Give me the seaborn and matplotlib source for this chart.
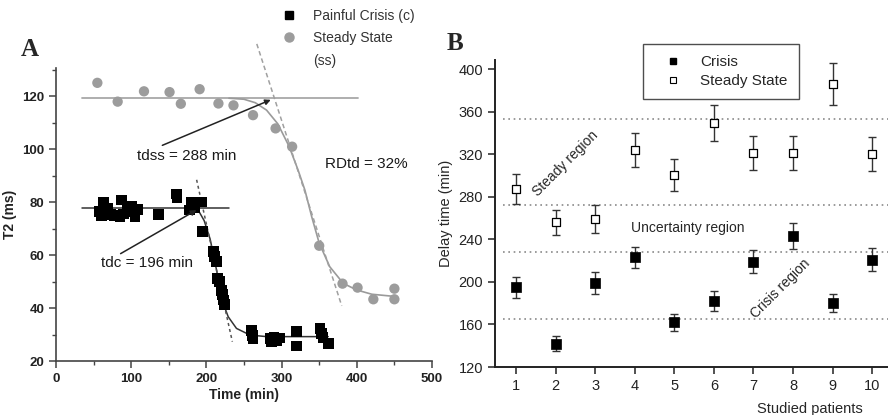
import numpy as np
import matplotlib
matplotlib.use("Agg")
import matplotlib.pyplot as plt
from matplotlib.lines import Line2D
from matplotlib.ticker import MultipleLocator
import seaborn as sns

# ---- Panel A data ----
ss_time = [55, 82, 117, 151, 166, 191, 216, 236, 262, 292, 314, 350, 381, 401, 422, 450, 450]
ss_t2 = [125.0, 117.9, 121.8, 121.5, 117.1, 122.6, 117.2, 116.5, 112.8, 107.8, 100.9,
         63.5, 49.2, 47.7, 43.3, 47.3, 43.3]

c_time = [58, 61, 63, 68, 72, 78, 85, 87, 90, 95, 100, 102, 105, 108, 136, 160, 161,
          178, 180, 185, 194, 195, 209, 211, 213, 215, 217, 220, 221, 223, 224,
          260, 261, 262, 285, 287, 290, 293, 298, 320, 320, 351, 353, 355, 362]
c_t2 = [76.5, 75.0, 79.8, 77.6, 75.2, 75.0, 74.6, 80.8, 75.5, 77.6, 78.2, 76.3, 74.5, 77.2,
        75.4, 83.0, 81.5, 77.0, 79.7, 78.0, 80.0, 68.8, 61.2, 59.5, 57.5, 51.0, 50.0,
        46.5, 45.0, 43.0, 41.2, 31.5, 29.5, 28.6, 28.5, 27.5, 28.8, 27.8, 28.7, 31.0,
        25.7, 32.3, 30.5, 29.0, 26.5]

# fitted curves
ss_fit_x = [230, 250, 265, 280, 295, 310, 322, 331, 340, 350, 364, 382, 400, 420, 453]
ss_fit_y = [119.2, 118.8, 117.5, 114.7, 109.5, 101, 92, 84.5, 74.5, 64.5, 55.6, 49.3, 46.8, 45.2, 44.3]
c_fit_x = [180, 190, 197, 205, 213, 222, 229, 240, 258, 280, 362]
c_fit_y = [77.5, 76.5, 73, 66, 55, 42, 36.7, 32.3, 29.8, 29.2, 29.2]

ss_base = 119.2
c_base = 77.6

# ---- Panel B data ----
patients = [1, 2, 3, 4, 5, 6, 7, 8, 9, 10]
crisis = [195, 142, 199, 223, 162, 182, 219, 243, 180, 221]
crisis_err = [10, 7, 10, 10, 8, 9, 11, 12, 8.5, 11]
steady = [287, 256, 259, 324, 300, 349, 321, 321, 386, 320]
steady_err = [14, 12, 13, 16, 15, 17, 16, 16, 20, 16]
region_lines = [353, 272, 228, 165]

sns.set_style("ticks")
plt.rcParams['font.family'] = ['Liberation Sans', 'DejaVu Sans']

fig = plt.figure(figsize=(8.88, 4.15), dpi=100)

# ================= Panel A =================
axA = fig.add_axes([56 / 888, 1 - 361 / 415, 376 / 888, 293 / 415])
axA.set_xlim(0, 500)
axA.set_ylim(20, 130.6)

axA.plot([34, 402], [ss_base, ss_base], color='#a8a8a8', lw=1.3, zorder=1)
axA.plot([34, 230], [c_base, c_base], color='#333333', lw=1.1, zorder=1)
sns.lineplot(x=ss_fit_x, y=ss_fit_y, ax=axA, color='#9a9a9a', lw=1.2, sort=False)
sns.lineplot(x=c_fit_x, y=c_fit_y, ax=axA, color='#333333', lw=1.1, sort=False)
axA.plot([267, 380], [139.7, 40.8], color='#a0a0a0', lw=1.1, ls=(0, (3, 2)), clip_on=False)
axA.plot([187, 234.5], [88.4, 27.3], color='#555555', lw=1.1, ls=(0, (2, 2)), clip_on=False)

sns.scatterplot(x=ss_time, y=ss_t2, ax=axA, marker='o', color='#9c9c9c', s=55,
                edgecolor='none', legend=False, zorder=3)
sns.scatterplot(x=c_time, y=c_t2, ax=axA, marker='s', color='black', s=60,
                edgecolor='none', legend=False, zorder=3)

axA.annotate('', xy=(289, 119), xytext=(138, 101),
             arrowprops=dict(arrowstyle='-|>', color='#222222', lw=1.1, mutation_scale=8))
axA.annotate('', xy=(190, 77.5), xytext=(82.7, 60),
             arrowprops=dict(arrowstyle='-|>', color='#222222', lw=1.1, mutation_scale=8))
axA.text(174, 97.4, 'tdss = 288 min', fontsize=11, ha='center', va='center', color='#1a1a1a')
axA.text(121, 57, 'tdc = 196 min', fontsize=11, ha='center', va='center', color='#1a1a1a')
axA.text(413, 94.5, 'RDtd = 32%', fontsize=11, ha='center', va='center', color='#1a1a1a')

axA.xaxis.set_major_locator(MultipleLocator(100))
axA.xaxis.set_minor_locator(MultipleLocator(50))
axA.yaxis.set_major_locator(MultipleLocator(20))
axA.yaxis.set_minor_locator(MultipleLocator(10))
axA.tick_params(which='major', direction='out', length=5, width=1.1, colors='#444444',
                labelcolor='#222222', labelsize=9.5)
axA.tick_params(which='minor', direction='out', length=3, width=1, colors='#444444')
for lab in axA.get_xticklabels() + axA.get_yticklabels():
    lab.set_fontweight('bold')
for side in ['top', 'right']:
    axA.spines[side].set_visible(False)
for side in ['left', 'bottom']:
    axA.spines[side].set_color('#444444')
    axA.spines[side].set_linewidth(1.2)
axA.set_xlabel('Time (min)', fontsize=10, fontweight='bold', color='#222222', labelpad=2)
axA.set_ylabel('T2 (ms)', fontsize=10, fontweight='bold', color='#222222', labelpad=4)

handlesA = [Line2D([], [], marker='s', color='black', ls='none', markersize=6),
            Line2D([], [], marker='o', color='#9c9c9c', ls='none', markersize=6.5),
            Line2D([], [], ls='none')]
fig.legend(handlesA, ['Painful Crisis (c)', 'Steady State', '(ss)'], loc='upper left',
           bbox_to_anchor=(274 / 888, 1 - 2 / 415), frameon=False, fontsize=10,
           labelcolor='#333333', handletextpad=1.1, labelspacing=0.6, handlelength=1.2,
           borderaxespad=0.1)

fig.text(30 / 888, 1 - 50 / 415, 'A', family='Liberation Serif', fontweight='bold',
         fontsize=18, ha='center', va='center')

# ================= Panel B =================
axB = fig.add_axes([495 / 888, 1 - 367 / 415, 393 / 888, 307 / 415])
axB.set_xlim(0.47, 10.4)
axB.set_ylim(120, 408.5)

for y in region_lines:
    axB.axhline(y, xmin=0.02, xmax=1, color='#8a8a8a', lw=1.2, ls=(0, (1, 2.2)), zorder=0)

axB.errorbar(patients, crisis, yerr=crisis_err, fmt='none', ecolor='#333333',
             elinewidth=1, capsize=2.8, capthick=1, zorder=1)
axB.errorbar(patients, steady, yerr=steady_err, fmt='none', ecolor='#333333',
             elinewidth=1, capsize=2.8, capthick=1, zorder=1)
sns.scatterplot(x=patients, y=crisis, ax=axB, marker='s', color='black', s=45,
                edgecolor='black', linewidth=0.5, legend=False, zorder=3)
sns.scatterplot(x=patients, y=steady, ax=axB, marker='s', color='white', s=40,
                edgecolor='black', linewidth=0.9, legend=False, zorder=3)

axB.text(2.24, 311, 'Steady region', rotation=45, fontsize=10, ha='center', va='center')
axB.text(5.35, 251, 'Uncertainty region', fontsize=10, ha='center', va='center')
axB.text(7.67, 194, 'Crisis region', rotation=45, fontsize=10, ha='center', va='center')

axB.set_xticks(patients)
axB.set_yticks(range(120, 401, 40))
axB.tick_params(direction='out', length=5, width=1.1, colors='#222222', labelsize=10.5)
for side in ['top', 'right']:
    axB.spines[side].set_visible(False)
for side in ['left', 'bottom']:
    axB.spines[side].set_color('#222222')
    axB.spines[side].set_linewidth(1.4)
axB.set_ylabel('Delay time (min)', fontsize=10.5, labelpad=4)
axB.set_xlabel('Studied patients', fontsize=10.5)
axB.xaxis.set_label_coords((810 - 495) / 393, -0.115)

handlesB = [Line2D([], [], marker='s', color='black', ls='none', markersize=4.5),
            Line2D([], [], marker='s', markerfacecolor='white', markeredgecolor='black',
                   ls='none', markersize=4.5, markeredgewidth=0.8)]
legB = fig.legend(handlesB, ['Crisis', 'Steady State'], loc='upper left',
                  bbox_to_anchor=(643 / 888, 1 - 44 / 415), fontsize=11, frameon=True,
                  fancybox=False, edgecolor='#222222', handletextpad=0.6, labelspacing=0.3,
                  borderpad=0.75, handlelength=2.4, borderaxespad=0)
legB.get_frame().set_linewidth(1.0)

fig.text(455 / 888, 1 - 43 / 415, 'B', family='Liberation Serif', fontweight='bold',
         fontsize=18, ha='center', va='center')

fig.savefig('out.png', dpi=100)
